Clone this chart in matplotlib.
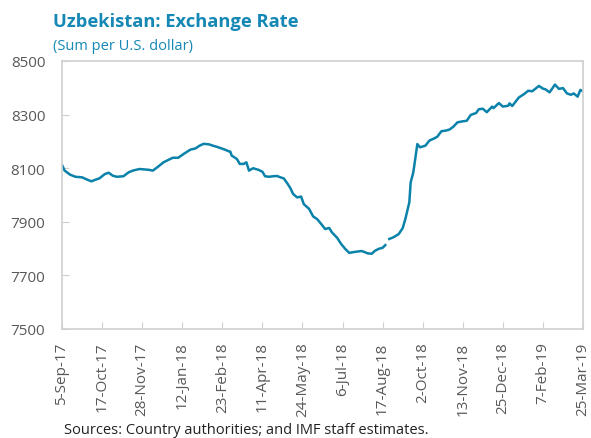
import numpy as np
import matplotlib
matplotlib.use("Agg")
import matplotlib.pyplot as plt

plt.rcParams['font.family'] = ['Open Sans', 'DejaVu Sans']

# observation number (trading days since 5-Sep-17) and exchange rate values
obs = [0, 2, 6, 10, 15, 19, 22, 25, 28, 32, 35, 38, 41, 46, 50, 53, 58, 65, 68, 72,
       76, 80, 83, 87, 91, 96, 100, 103, 106, 110, 113, 117, 121, 125, 126, 127, 128,
       131, 133, 136, 138, 140, 143, 147, 150, 152, 155, 158, 161, 164, 166, 169, 171,
       173, 176, 179, 181, 185, 188, 191, 194, 197, 200, 202, 206, 209, 212, 215, 217,
       220, 224, 226, 229, 232, 234, 237, 240, 242, 243, 245, 248, 252, 255, 257, 260,
       261, 263, 266, 268, 272, 275, 279, 281, 284, 287, 290, 293, 296, 300, 303, 306,
       310, 312, 315, 318, 322, 323, 327, 330, 334, 335, 337, 342, 346, 349, 352, 355,
       357, 360, 362, 365, 369, 372, 375, 378, 381, 383, 386, 388, 390]
rate = [8112, 8091, 8076, 8068, 8066, 8057, 8051, 8057, 8062, 8078, 8083, 8072, 8068,
        8070, 8085, 8091, 8097, 8094, 8091, 8106, 8122, 8132, 8139, 8139, 8153, 8169,
        8174, 8184, 8191, 8189, 8184, 8178, 8171, 8163, 8162, 8147, 8144, 8134, 8116,
        8116, 8122, 8091, 8100, 8094, 8087, 8070, 8068, 8070, 8071, 8065, 8062, 8041,
        8025, 8004, 7991, 7994, 7966, 7948, 7920, 7910, 7892, 7873, 7877, 7861, 7840,
        7817, 7799, 7784, 7786, 7788, 7791, 7788, 7782, 7781, 7791, 7799, 7803, 7813,
        np.nan, 7836, 7842, 7854, 7876, 7910, 7973, 8047, 8085, 8190, 8178, 8184, 8203,
        8212, 8218, 8238, 8240, 8244, 8255, 8271, 8275, 8277, 8299, 8306, 8320, 8322,
        8309, 8330, 8324, 8343, 8330, 8333, 8342, 8332, 8364, 8377, 8389, 8387, 8399,
        8407, 8397, 8394, 8383, 8412, 8396, 8399, 8379, 8374, 8379, 8367, 8392, 8387]

tick_obs = [0, 30, 60, 90, 120, 150, 180, 210, 240, 270, 300, 330, 360, 390]
tick_labels = ["5-Sep-17", "17-Oct-17", "28-Nov-17", "12-Jan-18", "23-Feb-18",
               "11-Apr-18", "24-May-18", "6-Jul-18", "17-Aug-18", "2-Oct-18",
               "13-Nov-18", "25-Dec-18", "7-Feb-19", "25-Mar-19"]
y_ticks = [7500, 7700, 7900, 8100, 8300, 8500]

W, H = 591, 439
fig = plt.figure(figsize=(W / 100, H / 100), dpi=100)
ax = fig.add_axes([62 / W, (H - 330) / H, (583 - 62) / W, (330 - 62) / H])

ax.plot(obs, rate, color='#0B82AA', lw=1.8)

ax.set_xlim(0, 390)
ax.set_ylim(7500, 8500)
ax.set_xticks(tick_obs)
ax.set_xticklabels(tick_labels, rotation=90)
ax.set_yticks(y_ticks)

for s in ax.spines.values():
    s.set_color('#D0D0D0')
    s.set_linewidth(1.2)
ax.tick_params(axis='both', direction='in', length=5, color='#D0D0D0',
               labelsize=11, labelcolor='#595959')
ax.tick_params(axis='y', pad=12)
ax.tick_params(axis='x', pad=9)

title_color = '#1588B5'
fig.text(53 / W, 1 - 22 / H, "Uzbekistan: Exchange Rate", fontsize=13.2,
         fontweight='bold', color=title_color, va='center', ha='left')
fig.text(53 / W, 1 - 47 / H, "(Sum per U.S. dollar)", fontsize=10.5,
         color=title_color, va='center', ha='left')
fig.text(64 / W, 1 - 423 / H, "Sources: Country authorities; and IMF staff estimates.",
         fontsize=10.5, color='#222222', va='top', ha='left')

fig.savefig("out.png", dpi=100)
